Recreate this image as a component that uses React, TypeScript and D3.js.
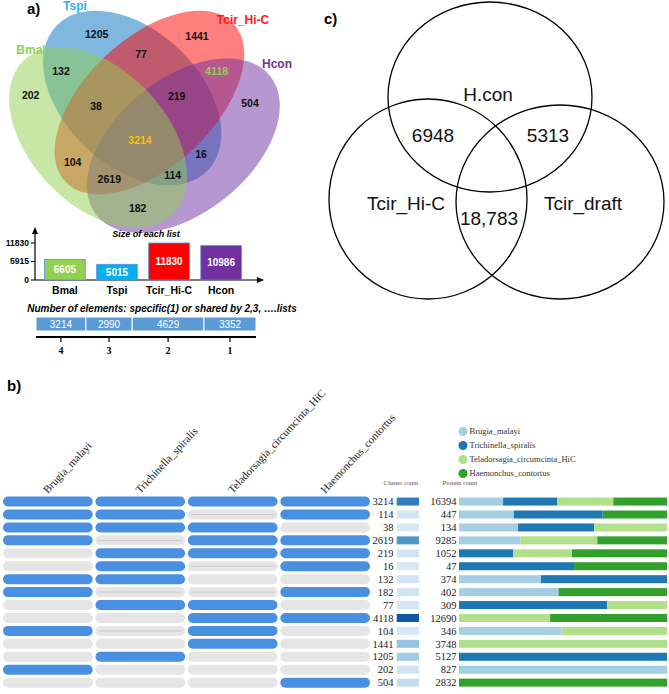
import React from 'react';
import * as d3 from 'd3';

// ---------------- Panel a: 4-set Venn data ----------------
const vennSets = ['Bmal', 'Tspi', 'Tcir_Hi-C', 'Hcon'];
const vennFillColors = ['#92d050', '#0070c0', '#ff0000', '#7030a0'];
const vennNameColors = ['#92d050', '#1fb1ee', '#ff1a1a', '#7030a0'];
const vennRegionKeys = ['1000', '0100', '0010', '0001', '1100', '1010', '1001', '0110', '0101', '0011', '1110', '1101', '1011', '0111', '1111'];
const vennRegionCounts = [202, 1205, 1441, 504, 132, 104, 182, 77, 16, 4118, 38, 114, 2619, 219, 3214];

// Size of each list
const setSizes = [6605, 5015, 11830, 10986];
const setSizeBarColors = ['#92d050', '#00b0f0', '#ff0000', '#7030a0'];
const sizeTicks = [0, 5915, 11830];

// Number of elements shared by n lists
const sharedDegrees = ['4', '3', '2', '1'];
const sharedCounts = [3214, 2990, 4629, 3352];

// ---------------- Panel c: 3-set Venn ----------------
const cSets = ['H.con', 'Tcir_Hi-C', 'Tcir_draft'];
const cOverlapPairs = ['H.con&Tcir_Hi-C', 'H.con&Tcir_draft', 'Tcir_Hi-C&Tcir_draft'];
const cOverlapCounts = [6948, 5313, 18783];

// ---------------- Panel b: UpSet-like table ----------------
const species = ['Brugia_malayi', 'Trichinella_spiralis', 'Teladorsagia_circumcinta_HiC', 'Haemonchus_contortus'];
const speciesColors = ['#a6cee3', '#1f78b4', '#b2df8a', '#33a02c'];
const membership = ['1111', '1101', '1110', '1011', '0111', '0101', '1100', '1001', '0110', '0011', '1010', '0010', '0100', '1000', '0001'];
const clusterCounts = [3214, 114, 38, 2619, 219, 16, 132, 182, 77, 4118, 104, 1441, 1205, 202, 504];
const proteinCounts = [16394, 447, 134, 9285, 1052, 47, 374, 402, 309, 12690, 346, 3748, 5127, 827, 2832];
// share (%) of proteins per species in each cluster group
const shareBrugia = [21.2, 26.4, 28.4, 29.5, 0, 0, 39.4, 47.9, 0, 0, 49.2, 0, 0, 100, 0];
const shareTrichinella = [26.1, 42.7, 36.5, 0, 26.1, 55.3, 60.6, 0, 71.2, 0, 0, 0, 100, 0, 0];
const shareTeladorsagia = [26.9, 0, 35.1, 37.0, 28.2, 0, 0, 0, 28.8, 43.8, 50.8, 100, 0, 0, 0];
const shareHaemonchus = [25.8, 30.9, 0, 33.5, 45.7, 44.7, 0, 52.1, 0, 56.2, 0, 0, 0, 0, 100];

// ---------------- layout constants ----------------
const ELLIPSES = [
  { cx: 98.1, cy: 137.6, a: 107.2, b: 67.8, rot: 46.1 },
  { cx: 132.2, cy: 98.0, a: 104.7, b: 67.8, rot: 43.5 },
  { cx: 149.4, cy: 102.6, a: 115.5, b: 64.0, rot: -43.3 },
  { cx: 183.3, cy: 145.6, a: 111.3, b: 67.2, rot: -38.7 },
];
const DRAW_ORDER = [1, 2, 3, 0];
const SET_NAME_POS = [[31, 50], [75, 6], [243, 20], [277, 64]];
const REGION_LABEL_POS: Record<string, number[]> = {
  '1000': [30.7, 95], '0100': [96.7, 34], '0010': [197, 36], '0001': [250, 103],
  '1100': [61, 71], '1010': [72.7, 162.7], '1001': [137.7, 208.3], '0110': [141, 54],
  '0101': [201, 154], '0011': [216.7, 71], '1110': [96, 106], '1101': [172.7, 175],
  '1011': [109.3, 179.3], '0111': [176.7, 96.7], '1111': [140, 140],
};
const SANS = 'Liberation Sans, Arial, sans-serif';
const SERIF = 'Liberation Serif, Times New Roman, serif';

function PanelA() {
  const yS = d3.scaleLinear().domain([0, d3.max(sizeTicks)!]).range([280, 243]);
  const xB = d3.scaleBand<string>().domain(vennSets).range([42, 244]).paddingInner(0.22).paddingOuter(0.05);
  const total = d3.sum(sharedCounts);
  const cum = d3.cumsum([0, ...sharedCounts]);
  const xS = d3.scaleLinear().domain([0, total]).range([36, 256]);

  return (
    <g>
      <text x={27} y={14} fontFamily={SANS} fontWeight="bold" fontSize={15}>a)</text>
      {DRAW_ORDER.map((i) => {
        const e = ELLIPSES[i];
        return (
          <ellipse key={i} cx={e.cx} cy={e.cy} rx={e.a} ry={e.b} transform={`rotate(${e.rot},${e.cx},${e.cy})`}
            fill={vennFillColors[i]} fillOpacity={0.5} stroke="none" />
        );
      })}
      {vennSets.map((s, i) => (
        <text key={s} x={SET_NAME_POS[i][0]} y={SET_NAME_POS[i][1]} dy="0.35em" textAnchor="middle"
          fontFamily={SANS} fontWeight="bold" fontSize={12} fill={vennNameColors[i]}>{s}</text>
      ))}
      {vennRegionKeys.map((k, i) => {
        const p = REGION_LABEL_POS[k];
        const fill = k === '1111' ? '#ffc000' : k === '0011' ? '#92d050' : '#111';
        return (
          <text key={k} x={p[0]} y={p[1]} dy="0.35em" textAnchor="middle" fontFamily={SANS}
            fontWeight="bold" fontSize={10.5} fill={fill}>{vennRegionCounts[i]}</text>
        );
      })}

      {/* Size of each list */}
      <text x={146} y={237} textAnchor="middle" fontFamily={SANS} fontStyle="italic" fontWeight="bold" fontSize={9}>Size of each list</text>
      <line x1={35} x2={35} y1={280} y2={231} stroke="#000" strokeWidth={1.2} />
      <path d="M35,227 L32,234 L38,234 Z" fill="#000" />
      <line x1={35} x2={259} y1={280} y2={280} stroke="#000" strokeWidth={1.2} />
      <path d="M264,280 L257,277 L257,283 Z" fill="#000" />
      {sizeTicks.map((t) => (
        <g key={t}>
          <line x1={31} x2={35} y1={yS(t)} y2={yS(t)} stroke="#000" />
          <text x={29} y={yS(t)} dy="0.35em" textAnchor="end" fontFamily={SANS} fontWeight="bold" fontSize={8.5}>{t}</text>
        </g>
      ))}
      {vennSets.map((s, i) => (
        <g key={s}>
          <rect x={xB(s)} y={yS(setSizes[i])} width={xB.bandwidth()} height={yS(0) - yS(setSizes[i])}
            fill={setSizeBarColors[i]} stroke="#5b8fd0" strokeWidth={0.8} />
          <text x={xB(s)! + xB.bandwidth() / 2} y={(yS(setSizes[i]) + yS(0)) / 2} dy="0.35em" textAnchor="middle"
            fontFamily={SANS} fontWeight="bold" fontSize={10} fill="#fff">{setSizes[i]}</text>
          <text x={xB(s)! + xB.bandwidth() / 2} y={290} dy="0.35em" textAnchor="middle"
            fontFamily={SANS} fontWeight="bold" fontSize={10.5} fill="#000">{s}</text>
        </g>
      ))}

      {/* Number of elements */}
      <text x={162} y={312} textAnchor="middle" fontFamily={SANS} fontStyle="italic" fontWeight="bold" fontSize={10}>
        Number of elements: specific(1) or shared by 2,3, ….lists
      </text>
      {sharedCounts.map((c, i) => (
        <g key={i}>
          <rect x={xS(cum[i])} y={317} width={xS(cum[i + 1]) - xS(cum[i])} height={14}
            fill="#5b9bd5" stroke="#fff" strokeWidth={1} />
          <text x={(xS(cum[i]) + xS(cum[i + 1])) / 2} y={324} dy="0.35em" textAnchor="middle"
            fontFamily={SANS} fontSize={10} fill="#fff">{c}</text>
        </g>
      ))}
      <line x1={36} x2={256} y1={337} y2={337} stroke="#000" strokeWidth={2} />
      {sharedDegrees.map((d, i) => {
        const cx = (xS(cum[i]) + xS(cum[i + 1])) / 2;
        return (
          <g key={d}>
            <line x1={cx} x2={cx} y1={337} y2={342} stroke="#000" strokeWidth={1.2} />
            <text x={cx} y={350} dy="0.35em" textAnchor="middle" fontFamily={SERIF} fontWeight="bold" fontSize={10}>{d}</text>
          </g>
        );
      })}
    </g>
  );
}

function PanelC() {
  const circles = [
    { cx: 490, cy: 97, rx: 102, ry: 95 },
    { cx: 428, cy: 199, rx: 99, ry: 100 },
    { cx: 560, cy: 202, rx: 104, ry: 97 },
  ];
  const fmt = (n: number) => (n >= 10000 ? d3.format(',')(n) : String(n));
  const namePos = [[488, 94], [406, 203], [583, 203]];
  const overlapPos = [[433, 135], [548, 135], [489, 218]];
  return (
    <g>
      <text x={324} y={24} fontFamily={SANS} fontWeight="bold" fontSize={15}>c)</text>
      {circles.map((c, i) => (
        <ellipse key={i} cx={c.cx} cy={c.cy} rx={c.rx} ry={c.ry} fill="none" stroke="#000" strokeWidth={1.3} />
      ))}
      {cSets.map((s, i) => (
        <text key={s} x={namePos[i][0]} y={namePos[i][1]} dy="0.35em" textAnchor="middle" fontFamily={SANS} fontSize={19} fill="#111">{s}</text>
      ))}
      {cOverlapPairs.map((p, i) => (
        <text key={p} x={overlapPos[i][0]} y={overlapPos[i][1]} dy="0.35em" textAnchor="middle" fontFamily={SANS} fontSize={19} fill="#111">{fmt(cOverlapCounts[i])}</text>
      ))}
    </g>
  );
}

function PanelB() {
  const xCol = d3.scaleBand<string>().domain(species).range([3, 370]).paddingInner(0.03);
  const rows = d3.range(membership.length);
  const yRow = d3.scaleBand<number>().domain(rows).range([495.1, 689.1]);
  const rc = (i: number) => yRow(i)! + yRow.bandwidth() / 2;
  const clusterColor = d3.scaleSequential((t: number) => d3.interpolateBlues(0.15 + 0.7 * t)).domain([0, d3.max(clusterCounts)!]);
  const shares = [shareBrugia, shareTrichinella, shareTeladorsagia, shareHaemonchus];
  const xP = d3.scaleLinear().domain([0, 1]).range([459, 667]);

  return (
    <g>
      <text x={7} y={391} fontFamily={SANS} fontWeight="bold" fontSize={15}>b)</text>
      {species.map((s) => (
        <text key={s} x={xCol(s)! + xCol.bandwidth() / 2} y={494}
          transform={`rotate(-47,${xCol(s)! + xCol.bandwidth() / 2},494)`}
          fontFamily={SERIF} fontSize={11} fill="#222">{s}</text>
      ))}
      <text x={401} y={485} textAnchor="middle" fontFamily={SERIF} fontSize={6.5} fill="#555">Cluster count</text>
      <text x={460} y={485} textAnchor="middle" fontFamily={SERIF} fontSize={6.5} fill="#555">Protein count</text>
      {species.map((s, i) => (
        <g key={s}>
          <circle cx={463} cy={431.5 + i * 14} r={4.5} fill={speciesColors[i]} />
          <text x={469.5} y={431.5 + i * 14} dy="0.35em" fontFamily={SERIF} fontSize={8.5} fill="#333">{s}</text>
        </g>
      ))}
      {rows.map((r) => {
        const m = membership[r].split('').map((c) => c === '1');
        const first = m.indexOf(true);
        const last = m.lastIndexOf(true);
        const tot = d3.sum(shares, (a) => a[r]);
        const cs = d3.cumsum([0, ...shares.map((a) => a[r] / tot)]);
        return (
          <g key={r}>
            {species.map((s, j) => (
              <g key={s}>
                <rect x={xCol(s)} y={rc(r) - 5} width={xCol.bandwidth()} height={10} rx={5}
                  fill={m[j] ? '#4a90e2' : '#e5e5e5'} />
                {!m[j] && j > first && j < last && (
                  <line x1={xCol(s)! + 3} x2={xCol(s)! + xCol.bandwidth() - 3} y1={rc(r)} y2={rc(r)} stroke="#c9c9c9" strokeWidth={1} />
                )}
              </g>
            ))}
            <text x={393.5} y={rc(r)} dy="0.35em" textAnchor="end" fontFamily={SERIF} fontSize={10.5} fill="#222">{clusterCounts[r]}</text>
            <rect x={396.7} y={rc(r) - 4} width={22.3} height={8} fill={clusterColor(clusterCounts[r])} />
            <text x={456.5} y={rc(r)} dy="0.35em" textAnchor="end" fontFamily={SERIF} fontSize={10.5} fill="#222">{proteinCounts[r]}</text>
            {shares.map((a, j) =>
              a[r] > 0 ? (
                <rect key={j} x={xP(cs[j])} y={rc(r) - 4} width={xP(cs[j + 1]) - xP(cs[j])} height={8} fill={speciesColors[j]} />
              ) : null
            )}
          </g>
        );
      })}
    </g>
  );
}

export default function App() {
  return (
    <svg width={669} height={694} style={{ position: 'absolute', left: 0, top: 0, background: '#fff' }}>
      <rect width={669} height={694} fill="#fff" />
      <PanelA />
      <PanelC />
      <PanelB />
    </svg>
  );
}
